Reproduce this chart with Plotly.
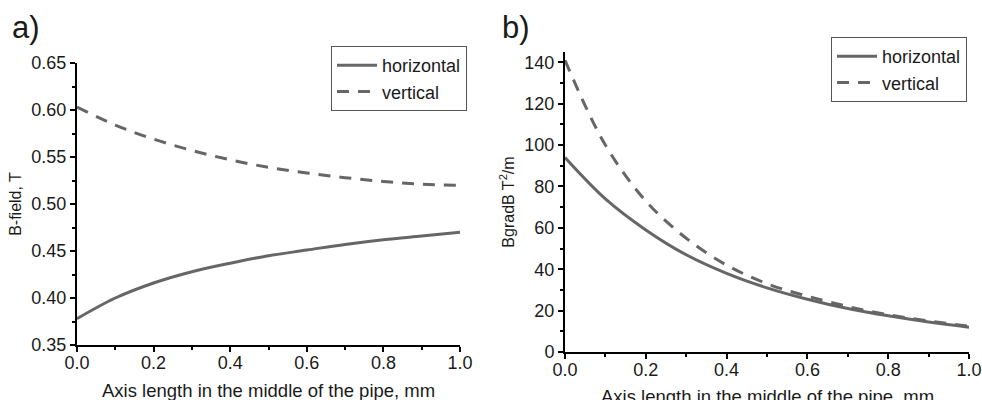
import plotly.graph_objects as go

x_vals = [0.0, 0.1, 0.2, 0.3, 0.4, 0.5, 0.6, 0.7, 0.8, 0.9, 1.0]

# panel a) B-field, T
a_horizontal = [0.378, 0.400, 0.416, 0.428, 0.437, 0.445, 0.451, 0.457, 0.462, 0.466, 0.470]
a_vertical = [0.603, 0.584, 0.569, 0.557, 0.547, 0.539, 0.533, 0.528, 0.524, 0.521, 0.520]

# panel b) BgradB, T^2/m
b_horizontal = [94, 74, 59, 47, 38, 31, 25.5, 21, 17.5, 14.5, 12]
b_vertical = [141, 100, 73, 55, 42, 33, 27, 22, 18, 15, 12.5]

a_yticks = [0.35, 0.40, 0.45, 0.50, 0.55, 0.60, 0.65]
b_yticks = [0, 20, 40, 60, 80, 100, 120, 140]
x_ticks = [0.0, 0.2, 0.4, 0.6, 0.8, 1.0]
x_title = "Axis length in the middle of the pipe, mm"

LINE = "#666666"
FONT = "Liberation Sans, Arial, sans-serif"
TXT = "#1a1a1a"
W, H = 982, 400
ML, MR, MT, MB = 77, 13, 52, 48
PW, PH = W - ML - MR, H - MT - MB


def px(xp):
    return (xp - ML) / PW


def py(yp):
    return (H - MB - yp) / PH


fig = go.Figure()
fig.add_trace(go.Scatter(x=x_vals, y=a_horizontal, mode="lines", name="horizontal",
                         line=dict(color=LINE, width=3, shape="spline"),
                         xaxis="x", yaxis="y", legend="legend"))
fig.add_trace(go.Scatter(x=x_vals, y=a_vertical, mode="lines", name="vertical",
                         line=dict(color=LINE, width=3, dash="12px,9px", shape="spline"),
                         xaxis="x", yaxis="y", legend="legend"))
fig.add_trace(go.Scatter(x=x_vals, y=b_horizontal, mode="lines", name="horizontal",
                         line=dict(color=LINE, width=3, shape="spline"),
                         xaxis="x2", yaxis="y2", legend="legend2"))
fig.add_trace(go.Scatter(x=x_vals, y=b_vertical, mode="lines", name="vertical",
                         line=dict(color=LINE, width=3, dash="12px,9px", shape="spline"),
                         xaxis="x2", yaxis="y2", legend="legend2"))


def ax_common():
    return dict(showline=True, linecolor="black", linewidth=2, ticks="outside",
                ticklen=5, tickwidth=1.5, tickcolor="black", showgrid=False,
                zeroline=False, automargin=True, tickfont=dict(size=18, color=TXT))


minor_x = dict(dtick=0.1, ticks="outside", ticklen=3, tickcolor="black", tickwidth=1.5)

xa = ax_common()
xa.update(domain=[0, px(460)], range=[0, 1], tickvals=x_ticks, ticklabelstandoff=-5,
          ticktext=[f"{v:.1f}" for v in x_ticks], anchor="y", minor=minor_x)
ya = ax_common()
ya.update(domain=[py(345), py(63)], range=[0.35, 0.65], tickvals=a_yticks,
          ticktext=[f"{v:.2f}" for v in a_yticks], anchor="x",
          minor=dict(dtick=0.025, ticks="outside", ticklen=3, tickcolor="black", tickwidth=1.5),
          title=dict(text="B-field, T", standoff=6, font=dict(size=16, color=TXT)))
xb = ax_common()
xb.update(domain=[px(565), 1], range=[0, 1], tickvals=x_ticks, ticklabelstandoff=-5,
          ticktext=[f"{v:.1f}" for v in x_ticks], anchor="y2", minor=minor_x)
yb = ax_common()
yb.update(domain=[0, 1], range=[0, 145], tickvals=b_yticks,
          anchor="x2",
          minor=dict(dtick=10, ticks="outside", ticklen=3, tickcolor="black", tickwidth=1.5),
          title=dict(text="BgradB T<sup>2</sup>/m", standoff=6, font=dict(size=16, color=TXT)))

legend_style = dict(bordercolor="#555", borderwidth=1, bgcolor="white",
                    font=dict(size=18, color=TXT, family=FONT),
                    xanchor="left", yanchor="top", tracegroupgap=0, itemwidth=40)

fig.update_layout(
    width=W, height=H,
    margin=dict(l=ML, r=MR, t=MT, b=MB, pad=0, autoexpand=False),
    paper_bgcolor="white", plot_bgcolor="white",
    font=dict(family=FONT, color=TXT),
    xaxis=xa, yaxis=ya, xaxis2=xb, yaxis2=yb,
    legend=dict(x=px(331), y=py(46), **legend_style),
    legend2=dict(x=px(831), y=py(37), **legend_style),
    annotations=[
        dict(text="a)", x=px(10), y=py(27), xref="paper", yref="paper",
             showarrow=False, xanchor="left", yanchor="middle", font=dict(size=31, color=TXT)),
        dict(text="b)", x=px(500), y=py(27), xref="paper", yref="paper",
             showarrow=False, xanchor="left", yanchor="middle", font=dict(size=31, color=TXT)),
        dict(text=x_title, x=px(268.5), y=py(390), xref="paper", yref="paper",
             showarrow=False, xanchor="center", yanchor="middle", font=dict(size=18.5, color=TXT)),
        dict(text=x_title, x=px(767), y=py(396), xref="paper", yref="paper",
             showarrow=False, xanchor="center", yanchor="middle", font=dict(size=18.5, color=TXT)),
    ],
)

fig.write_html("out.html", config={"displayModeBar": False},
               post_script="document.body.style.margin='0';document.body.style.overflow='hidden';")
